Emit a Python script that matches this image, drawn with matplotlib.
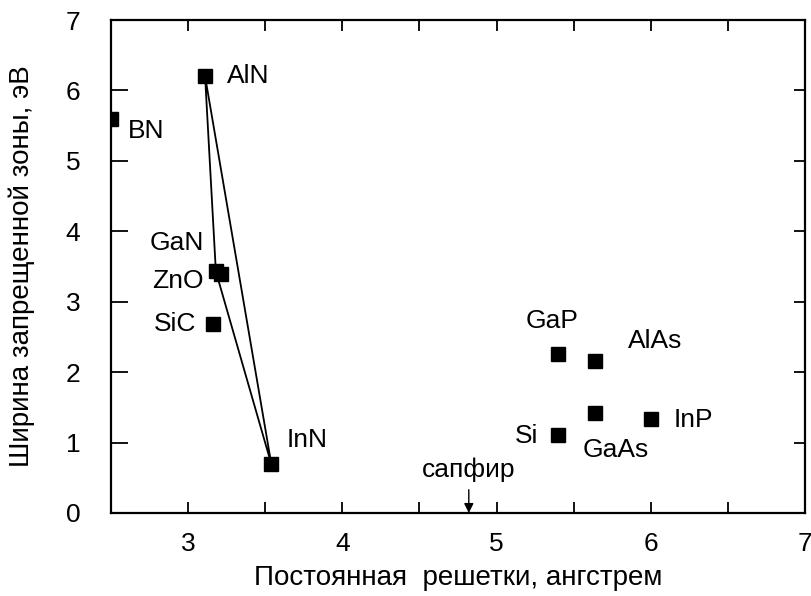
import matplotlib
matplotlib.use("Agg")
import matplotlib.pyplot as plt
from matplotlib.ticker import MultipleLocator

plt.rcParams['font.family'] = ['Liberation Sans', 'DejaVu Sans']

materials = ["BN", "AlN", "GaN", "ZnO", "SiC", "InN", "GaP", "AlAs", "Si", "GaAs", "InP"]
lattice = [2.50, 3.11, 3.18, 3.21, 3.16, 3.54, 5.40, 5.64, 5.40, 5.64, 6.00]
gap = [5.60, 6.20, 3.43, 3.39, 2.69, 0.69, 2.26, 2.16, 1.11, 1.42, 1.34]

# text label positions (data coords) and alignment
label_x = [2.61, 3.25, 3.10, 3.10, 3.05, 3.64, 5.36, 5.85, 5.27, 5.56, 6.15]
label_y = [5.43, 6.20, 3.83, 3.30, 2.69, 1.03, 2.72, 2.44, 1.10, 0.89, 1.32]
label_ha = ["left", "left", "right", "right", "right", "left", "center", "left", "right", "left", "left"]

# triangle AlN - GaN - InN
tri_names = ["AlN", "GaN", "InN", "AlN"]

sapphire_a = 4.82

fig = plt.figure(figsize=(8.12, 5.96), dpi=100)
ax = fig.add_axes([0.1367, 0.1393, 0.9914 - 0.1367, 0.9664 - 0.1393])

tx = [lattice[materials.index(n)] for n in tri_names]
ty = [gap[materials.index(n)] for n in tri_names]
ax.plot(tx, ty, color="black", lw=1.3, zorder=2)

ax.plot(lattice, gap, linestyle="none", marker="s", markersize=10,
        color="black", zorder=3, clip_on=True)

for name, x, y, ha in zip(materials, label_x, label_y, label_ha):
    ax.text(x, y, name, ha=ha, va="center", fontsize=19)

ax.annotate("", xy=(sapphire_a, 0.0), xytext=(sapphire_a, 0.33),
            arrowprops=dict(arrowstyle="-|>", color="black", lw=1.0,
                            mutation_scale=14, shrinkA=0, shrinkB=0))
ax.text(sapphire_a, 0.62, "сапфир", ha="center", va="center", fontsize=19)

ax.set_xlim(2.5, 7)
ax.set_ylim(0, 7)
ax.xaxis.set_major_locator(MultipleLocator(1))
ax.xaxis.set_minor_locator(MultipleLocator(0.5))
ax.yaxis.set_major_locator(MultipleLocator(1))

ax.tick_params(axis="x", which="both", direction="in", top=True, bottom=True,
               length=8, width=1.3, labelsize=19, pad=14)
ax.tick_params(axis="y", which="major", direction="in", left=True, right=True,
               length=8, width=1.3, labelsize=19, pad=22)
for t in ax.yaxis.get_major_ticks():
    t.tick1line.set_markersize(12)

for s in ax.spines.values():
    s.set_linewidth(1.6)

ax.set_xlabel("Постоянная  решетки, ангстрем", fontsize=20, labelpad=6)
ax.set_ylabel("Ширина запрещенной зоны, эВ", fontsize=20, labelpad=22)

fig.savefig("out.png", dpi=100)
